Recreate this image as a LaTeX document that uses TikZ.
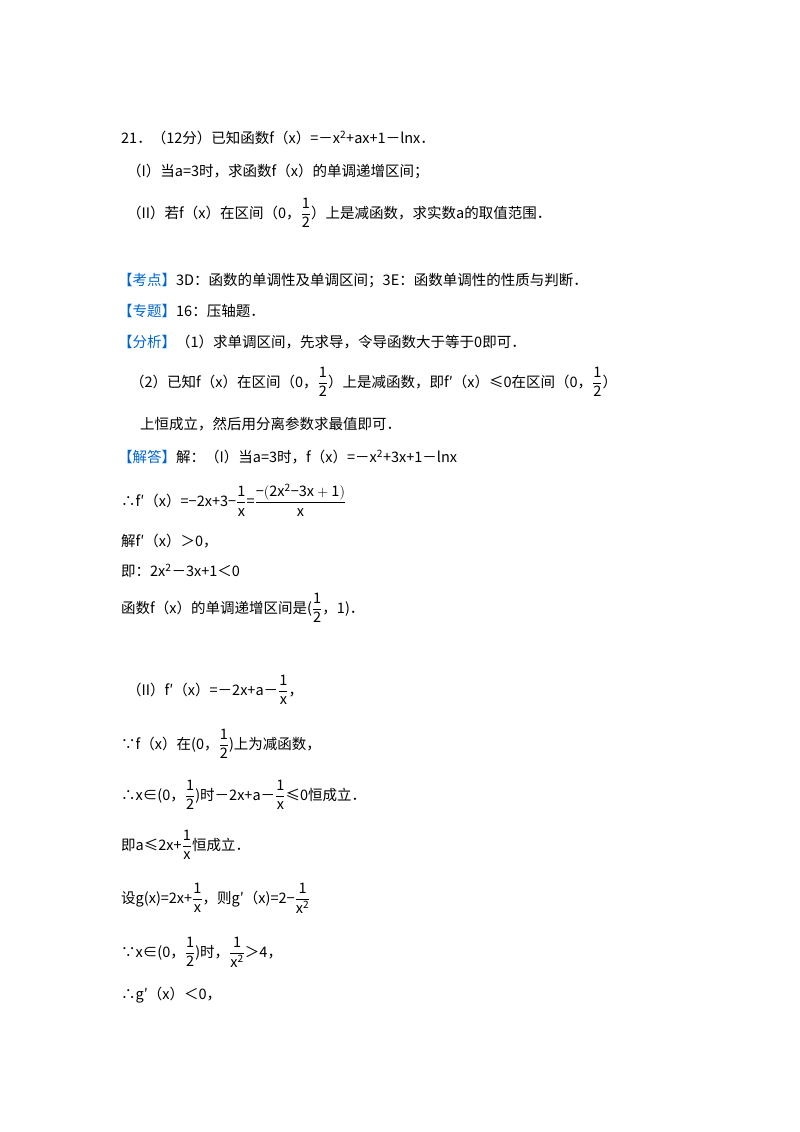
\documentclass[tikz,border=0pt]{standalone}
\usepackage{fontspec}
\setmainfont{Noto Sans CJK SC}
\usepackage{amsmath,amssymb}
\definecolor{kblue}{RGB}{0,102,204}
\newcommand{\fr}[2]{\ensuremath{\dfrac{\mathrm{#1}}{\mathrm{#2}}}}
\newcommand{\bl}[1]{\textcolor{kblue}{#1}}
\begin{document}
\begin{tikzpicture}[x=1pt,y=-1pt,
  txt/.style={anchor=west,inner sep=0pt,font=\fontsize{14.5}{17}\selectfont}]
\useasboundingbox (0,0) rectangle (800,1132);
\node[txt] (l1) at (121,138) {21．（12分）已知函数f（x）=－x\textsuperscript{2}+ax+1－lnx．};
\node[txt] (l2) at (127,171) {（I）当a=3时，求函数f（x）的单调递增区间；};
\node[txt] (l3) at (127,213) {（II）若f（x）在区间（0，\fr12）上是减函数，求实数a的取值范围．};
\node[txt] (l4) at (118,281) {\bl{【考点】}3D：函数的单调性及单调区间；3E：函数单调性的性质与判断．};
\node[txt] (l5) at (118,311) {\bl{【专题】}16：压轴题．};
\node[txt] (l6) at (118,342) {\bl{【分析】}（1）求单调区间，先求导，令导函数大于等于0即可．};
\node[txt] (l7) at (130,382) {（2）已知f（x）在区间（0，\fr12）上是减函数，即f′（x）≤0在区间（0，\fr12）};
\node[txt] (l8) at (140,424) {上恒成立，然后用分离参数求最值即可．};
\node[txt] (l9) at (118,457) {\bl{【解答】}解：（I）当a=3时，f（x）=－x\textsuperscript{2}+3x+1－lnx};
\node[txt] (l10) at (121,500) {∴f′（x）=−2x+3−\fr1x=\fr{−(2x^2−3x+1)}{x}};
\node[txt] (l11) at (121,541) {解f′（x）＞0，};
\node[txt] (l12) at (121,571) {即：2x\textsuperscript{2}－3x+1＜0};
\node[txt] (l13) at (121,608) {函数f（x）的单调递增区间是(\fr12，1)．};
\node[txt] (l14) at (127,690) {（II）f′（x）=－2x+a－\fr1x，};
\node[txt] (l15) at (121,744) {∵f（x）在(0，\fr12)上为减函数，};
\node[txt] (l16) at (121,795) {∴x∈(0，\fr12)时－2x+a－\fr1x≤0恒成立．};
\node[txt] (l17) at (121,845) {即a≤2x+\fr1x恒成立．};
\node[txt] (l18) at (121,898) {设g(x)=2x+\fr1x，则g′（x)=2−\fr1{x^2}};
\node[txt] (l19) at (121,952) {∵x∈(0，\fr12)时，\fr1{x^2}＞4，};
\node[txt] (l20) at (121,995) {∴g′（x）＜0，};
\end{tikzpicture}
\end{document}
